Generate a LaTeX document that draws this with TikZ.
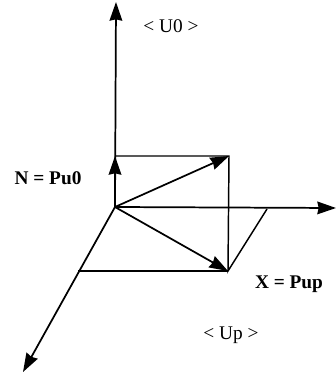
\documentclass[tikz,border=0pt]{standalone}
\usepackage{fontspec}
\setmainfont{Liberation Serif}
\usetikzlibrary{arrows.meta}
\tikzset{
  ln/.style={line width=1.1pt,black},
  vec/.style={line width=1.3pt,black,-{Stealth[length=14pt,width=9.5pt,inset=1pt]}},
  lab/.style={inner sep=0pt,font=\fontsize{14.5}{16}\selectfont},
  blab/.style={inner sep=0pt,font=\fontsize{14.5}{16}\selectfont\bfseries}
}
\begin{document}
\begin{tikzpicture}[x=0.75pt,y=-0.75pt]
\useasboundingbox (0,0) rectangle (336,379);
\coordinate (O) at (115,207);
\coordinate (U) at (116,2);
\coordinate (N) at (115,156);
\coordinate (C) at (229,156);
\coordinate (X) at (228,271);
\coordinate (R) at (336,208);
\coordinate (P) at (267,209);
\coordinate (L) at (78,271);
\coordinate (D) at (23,372);
\draw[vec] (O) -- (U);
\draw[vec] (O) -- (R);
\draw[vec] (O) -- (D);
\draw[ln] (N) -- (C) -- (X) -- (P);
\draw[ln] (L) -- (X);
\draw[vec] (O) -- (C);
\draw[vec] (O) -- (X);
\draw[vec] (O) -- (N);
\node[lab] (a) at (171,26) {< U0 >};
\node[blab] (b) at (48,178) {N = Pu0};
\node[blab] (c) at (289,284) {X = Pup};
\node[lab] (d) at (231,335) {< Up >};
\end{tikzpicture}
\end{document}
